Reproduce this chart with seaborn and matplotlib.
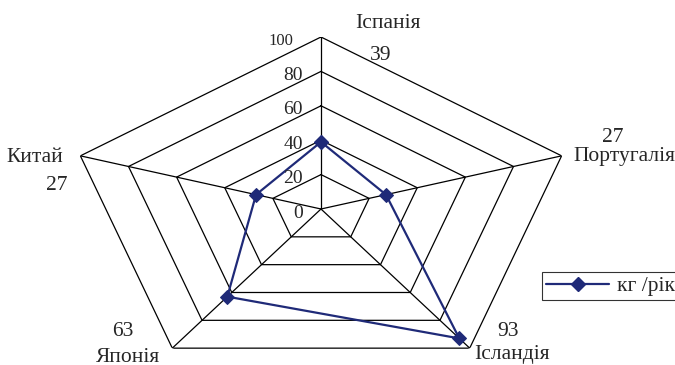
import numpy as np
import pandas as pd
import matplotlib
matplotlib.use("Agg")
import matplotlib.pyplot as plt
import seaborn as sns
from matplotlib.lines import Line2D

categories = ["Іспанія", "Португалія", "Ісландія", "Японія", "Китай"]
values = [39, 27, 93, 63, 27]
ticks = [0, 20, 40, 60, 80, 100]
series_name = "кг /рік"

sns.set_style("white")
plt.rcParams['font.family'] = ['Liberation Serif', 'DejaVu Serif']

W, H = 675, 365
fig = plt.figure(figsize=(W / 100, H / 100), dpi=100)
cx, cy, RX, RY = 321, 209, 253, 172
ax = fig.add_axes([(cx - RX) / W, (H - cy - RY) / H, 2 * RX / W, 2 * RY / H], projection='polar')
ax.set_aspect('auto')
ax.set_theta_offset(np.pi / 2)
ax.set_theta_direction(-1)
ax.set_ylim(0, 100)
ax.axis('off')

n = len(categories)
angles = np.linspace(0, 2 * np.pi, n, endpoint=False)
ang_c = np.append(angles, angles[0] + 2 * np.pi)

# pentagon grid
for r in ticks[1:]:
    ax.plot(np.append(angles, angles[0]), [r] * (n + 1), color='black', lw=0.9, zorder=1)
for a in angles:
    ax.plot([a, a], [0, ticks[-1]], color='black', lw=0.9, zorder=1)

df = pd.DataFrame({"angle": ang_c, "value": values + [values[0]]})
color = '#1f2a78'
sns.lineplot(data=df, x="angle", y="value", sort=False, ax=ax, color=color,
             lw=1.6, marker='D', markersize=7, markeredgecolor=color, zorder=3)

for r in ticks:
    fs = 12 if r == 100 else 14
    dx = -20 if r == 100 else -13
    ax.annotate(str(r), xy=(0, r), xytext=(dx, -3), textcoords='offset points',
                ha='right', va='center', fontsize=fs)

def ftext(x, y, s, **kw):
    fig.text(x / W, 1 - y / H, s, fontsize=15.5, ha='center', va='center', **kw)

# category labels and value labels
ftext(388, 23, "Іспанія")
ftext(381, 56, "39")
ftext(624, 156, "Португалія")
ftext(613, 137, "27")
ftext(512, 354, "Ісландія")
ftext(508, 331, "93")
ftext(128, 357, "Японія")
ftext(123, 331, "63")
ftext(35, 158, "Китай")
ftext(57, 185, "27")

handle = Line2D([], [], color=color, lw=1.6, marker='D', markersize=7)
leg = fig.legend([handle], [series_name], loc='center left',
                 bbox_to_anchor=(542 / W, 1 - 286 / H), fontsize=15.5,
                 frameon=True, fancybox=False, edgecolor='black',
                 handlelength=2.9, borderpad=0.2, handletextpad=0.4,
                 borderaxespad=0)
leg.get_frame().set_linewidth(0.8)

fig.savefig("out.png", dpi=100)
